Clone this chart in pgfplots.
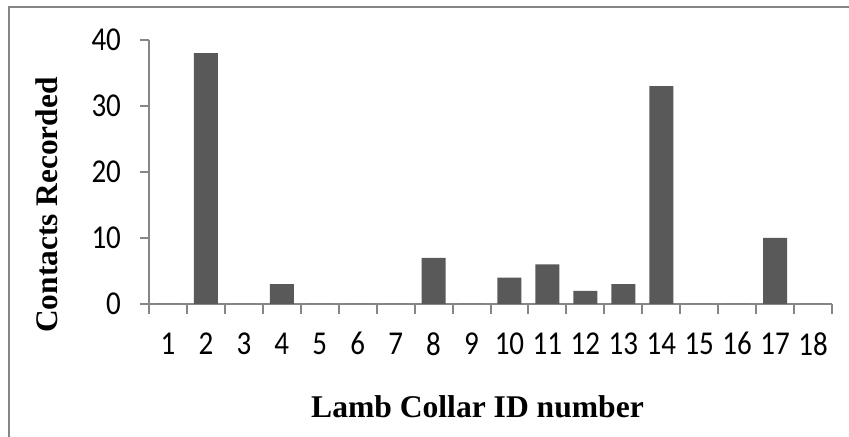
\documentclass[border=0pt]{standalone}
\usepackage{graphicx}
\usepackage{pgfplots}
\pgfplotsset{compat=1.18}
\usepackage{fontspec}
\setmainfont{Liberation Serif}
\newfontfamily\calibri{Carlito}
\definecolor{barfill}{HTML}{595959}
\definecolor{axisgray}{HTML}{868686}
% tick numbers: Calibri-like, a little taller, all with the same box height
\newcommand\ticktext[1]{\scalebox{1}[1.15]{\fontsize{14.5}{17}\selectfont\calibri\vphantom{0}#1}}
\begin{document}
\begin{tikzpicture}
% picture area; the axis box sits with its lower left corner at (0,0)
\useasboundingbox (-74.5pt,-66.5pt) rectangle (350pt,152pt);
% chart frame (only left and top edges fall inside the picture)
\draw[axisgray, line width=1pt] (-70pt,-72pt) -- (-70pt,148.5pt) -- (356pt,148.5pt);
\begin{axis}[
  anchor=south west,
  scale only axis,
  width=341.5pt, height=132pt,
  xmin=0.5, xmax=18.5,
  ymin=0, ymax=40,
  axis x line*=bottom, axis y line*=left,
  axis line style={axisgray, line width=1pt},
  ytick={0,10,20,30,40},
  xtick={1,...,18},
  major x tick style={draw=none},
  minor xtick={0.5,1.5,...,18.5},
  minor tick length=5pt,
  major tick length=4.5pt,
  tick align=outside,
  tick style={axisgray, line width=1pt},
  /pgf/number format/assume math mode=true,
  xticklabel={\ticktext{\pgfmathprintnumber{\tick}}},
  yticklabel={\ticktext{\pgfmathprintnumber{\tick}}},
  xticklabel style={yshift=-6.2pt},
  yticklabel style={xshift=-6pt},
  ylabel={\textbf{Contacts Recorded}},
  ylabel style={at={(axis description cs:-0.149,0.375)}, anchor=center, font=\fontsize{15.7}{18}\selectfont},
  xlabel={\textbf{Lamb Collar ID number}},
  xlabel style={at={(axis description cs:0.481,-0.39)}, anchor=center, font=\fontsize{15.8}{18}\selectfont},
  ybar, bar width=12pt,
  clip=false,
]
\addplot[fill=barfill, draw=none] coordinates {
  (1,0) (2,38) (3,0) (4,3) (5,0) (6,0) (7,0) (8,7) (9,0)
  (10,4) (11,6) (12,2) (13,3) (14,33) (15,0) (16,0) (17,10) (18,0)
};
\end{axis}
\end{tikzpicture}
\end{document}
